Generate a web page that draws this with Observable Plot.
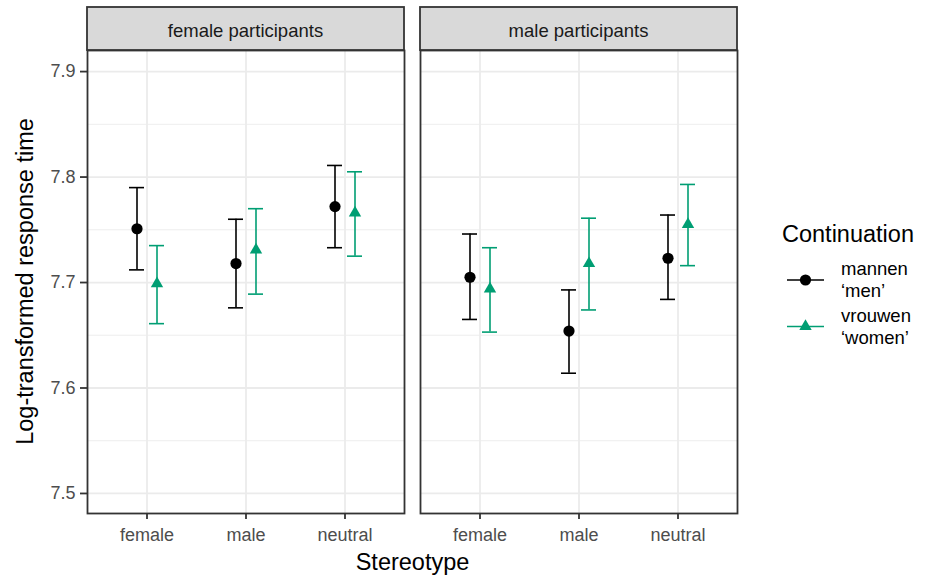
<!DOCTYPE html>
<html><head><meta charset="utf-8">
<script src="https://cdn.jsdelivr.net/npm/d3@7"></script>
<script src="https://cdn.jsdelivr.net/npm/@observablehq/plot@0.6"></script>
<style>body{margin:0;background:#fff;} svg{font-family:"Liberation Sans",Arial,sans-serif;}</style>
</head><body><div id="chart"></div>
<script>
const participants = ["female participants", "male participants"];
const stereotypes = ["female", "male", "neutral"];
const continuations = ["mannen", "vrouwen"];
const glosses = ["‘men’", "‘women’"];
const colors = ["#000000", "#009E73"];
const symbols = ["circle", "triangle"];
// order: female participants (female, male, neutral), male participants (female, male, neutral)
const menMean  = [7.751, 7.718, 7.772, 7.705, 7.654, 7.723];
const menLow   = [7.712, 7.676, 7.733, 7.665, 7.614, 7.684];
const menHigh  = [7.790, 7.760, 7.811, 7.746, 7.693, 7.764];
const womenMean = [7.699, 7.731, 7.766, 7.694, 7.718, 7.755];
const womenLow  = [7.661, 7.689, 7.725, 7.653, 7.674, 7.716];
const womenHigh = [7.735, 7.770, 7.805, 7.733, 7.761, 7.793];
const yTicks = [7.5, 7.6, 7.7, 7.8, 7.9];
const yMinor = [7.55, 7.65, 7.75, 7.85];

function rows(means, lows, highs, c) {
  return means.map((m, i) => ({participants: participants[Math.floor(i / 3)], stereotype: stereotypes[i % 3], mean: m, low: lows[i], high: highs[i], continuation: c}));
}
const men = rows(menMean, menLow, menHigh, continuations[0]);
const women = rows(womenMean, womenLow, womenHigh, continuations[1]);

function seriesMarks(data, k, dx) {
  return [
    Plot.ruleX(data, {fx: "participants", x: "stereotype", y1: "low", y2: "high", dx, stroke: colors[k], strokeWidth: 1.6}),
    Plot.tickY(data, {fx: "participants", x: "stereotype", y: "low", dx, stroke: colors[k], strokeWidth: 1.6}),
    Plot.tickY(data, {fx: "participants", x: "stereotype", y: "high", dx, stroke: colors[k], strokeWidth: 1.6}),
    Plot.dot(data, {fx: "participants", x: "stereotype", y: "mean", dx, fill: colors[k], stroke: "none", symbol: symbols[k], r: k === 0 ? 5.6 : 4.6})
  ];
}

const plot = Plot.plot({
  width: 925, height: 578,
  marginLeft: 87, marginRight: 187, marginTop: 50, marginBottom: 65,
  style: {fontFamily: "Liberation Sans, Arial, sans-serif", background: "white", overflow: "visible"},
  fx: {domain: participants, paddingInner: 0.048, paddingOuter: 0, axis: null, label: null},
  x: {type: "band", domain: stereotypes, paddingInner: 0.849, paddingOuter: 0.5245, label: null},
  y: {domain: [7.481, 7.92], label: null},
  marks: [
    Plot.ruleY(yMinor, {stroke: "#EBEBEB", strokeWidth: 0.9}),
    Plot.gridY(yTicks, {stroke: "#EBEBEB", strokeOpacity: 1, strokeWidth: 1.8}),
    Plot.gridX(stereotypes, {stroke: "#EBEBEB", strokeOpacity: 1, strokeWidth: 1.8}),
    Plot.frame({stroke: "#333333", strokeWidth: 1.8}),
    Plot.axisY(yTicks, {tickSize: 7, tickPadding: 5, tickFormat: d3.format(".1f"), fontSize: 18, fill: "#4D4D4D", stroke: "#333333", strokeWidth: 1.8, label: null}),
    Plot.axisX(stereotypes, {tickSize: 6, tickPadding: 9, fontSize: 18, fill: "#4D4D4D", stroke: "#333333", strokeWidth: 1.8, label: null}),
    ...seriesMarks(men, 0, -10),
    ...seriesMarks(women, 1, 10)
  ]
});

const svg = d3.select(plot);
const fx = plot.scale("fx");
// facet strips
participants.forEach(p => {
  const x0 = fx.apply(p);
  svg.append("rect").attr("x", x0).attr("y", 7).attr("width", fx.bandwidth).attr("height", 43)
    .attr("fill", "#D9D9D9").attr("stroke", "#333333").attr("stroke-width", 1.8);
  svg.append("text").attr("x", x0 + fx.bandwidth / 2).attr("y", 36.5)
    .attr("text-anchor", "middle").style("font-size", "18.5px").attr("fill", "#1A1A1A").text(p);
});
// axis titles
svg.append("text").attr("transform", "translate(33,281.5) rotate(-90)")
  .attr("text-anchor", "middle").style("font-size", "23.5px").attr("fill", "#000").text("Log-transformed response time");
svg.append("text").attr("x", 412.5).attr("y", 570)
  .attr("text-anchor", "middle").style("font-size", "23.5px").attr("fill", "#000").text("Stereotype");
// legend
const lg = svg.append("g").attr("text-anchor", "start");
lg.append("text").attr("x", 782).attr("y", 241.5)
  .style("font-size", "23.5px").attr("fill", "#000").text("Continuation");
const keyY = [280, 326.5];
continuations.forEach((c, k) => {
  lg.append("line").attr("x1", 787).attr("x2", 824).attr("y1", keyY[k]).attr("y2", keyY[k])
    .attr("stroke", colors[k]).attr("stroke-width", 1.6);
  const size = Math.PI * Math.pow(k === 0 ? 5.6 : 4.6, 2);
  lg.append("path").attr("transform", `translate(805.5,${keyY[k]})`)
    .attr("d", d3.symbol(k === 0 ? d3.symbolCircle : d3.symbolTriangle, size)())
    .attr("fill", colors[k]);
  lg.append("text").attr("x", 841).attr("y", keyY[k] - 5)
    .style("font-size", "18.5px").attr("fill", "#000").text(c);
  lg.append("text").attr("x", 841).attr("y", keyY[k] + 17)
    .style("font-size", "18.5px").attr("fill", "#000").text(glosses[k]);
});

document.getElementById("chart").appendChild(plot);
</script>
</body></html>
